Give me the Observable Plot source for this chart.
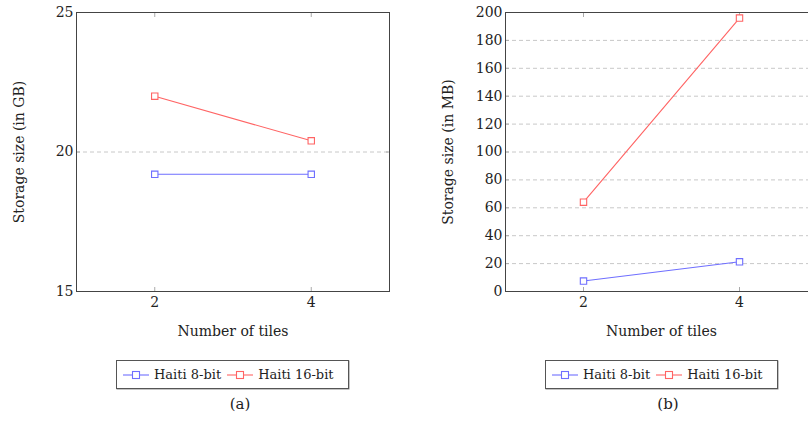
<!DOCTYPE html>
<html>
<head>
<meta charset="utf-8">
<script src="https://cdn.jsdelivr.net/npm/d3@7"></script>
<script src="https://cdn.jsdelivr.net/npm/@observablehq/plot@0.6"></script>
<style>
  html, body { margin: 0; padding: 0; background: #fff; }
  body { width: 808px; height: 423px; overflow: hidden; position: relative; font-family: "DejaVu Serif", serif; color: #222; }
  .panel { position: absolute; top: 0; }
  .panel svg { max-width: none !important; }
  .legend { position: absolute; top: 360px; height: 27px; width: 231px; border: 1px solid #555; display: flex; align-items: center; font-size: 13px; box-shadow: 0.5px 0.5px 0 #888; }
  .legend .item { display: flex; align-items: center; margin-left: 5px; }
  .legend svg { margin-right: 4px; }
  .caption { position: absolute; top: 395px; font-size: 15px; transform: translateX(-50%); }
</style>
</head>
<body>
<div id="pa" class="panel" style="left:0px"></div>
<div id="pb" class="panel" style="left:429px"></div>
<div id="la" class="legend" style="left:116px"></div>
<div id="lb" class="legend" style="left:545px"></div>
<div class="caption" style="left:240px">(a)</div>
<div class="caption" style="left:668px">(b)</div>
<script>
const tileCounts = [2, 4];
const xTicks = [2, 4];
const seriesNames = ["Haiti 8-bit", "Haiti 16-bit"];
const seriesColors = ["#6f6fff", "#ff6464"];
const gb8 = [19.2, 19.2];
const gb16 = [22.0, 20.4];
const mb8 = [7.5, 21.3];
const mb16 = [64, 196];
const gbTicks = [15, 20, 25];
const mbTicks = [0, 20, 40, 60, 80, 100, 120, 140, 160, 180, 200];
const gbLabel = "Storage size (in GB)";
const mbLabel = "Storage size (in MB)";
const xLabel = "Number of tiles";

function rows(a, b) {
  const out = [];
  [a, b].forEach((vals, s) => vals.forEach((v, i) => out.push({series: seriesNames[s], tiles: tileCounts[i], value: v})));
  return out;
}

function chart(data, yTicks, yLabel, width, marginRight) {
  return Plot.plot({
    width, height: 340,
    marginLeft: 76, marginTop: 12, marginBottom: 49, marginRight,
    style: {fontFamily: "DejaVu Serif, serif", fontSize: "13px", color: "#222", background: "white", overflow: "visible", maxWidth: "none"},
    x: {domain: [1, 5]},
    y: {domain: [yTicks[0], yTicks[yTicks.length - 1]]},
    color: {domain: seriesNames, range: seriesColors},
    marks: [
      Plot.gridY(yTicks, {stroke: "#c8c8c8", strokeOpacity: 1, strokeDasharray: "4,3"}),
      Plot.axisX(xTicks, {anchor: "bottom", tickSize: -4, stroke: "#aaa", tickPadding: 10, fontSize: 14, label: xLabel, labelAnchor: "center", labelOffset: 44, labelArrow: "none"}),
      Plot.axisX(xTicks, {anchor: "top", tickSize: -4, stroke: "#aaa", tickFormat: () => "", label: null}),
      Plot.axisY(yTicks, {anchor: "left", tickSize: -4, stroke: "#aaa", tickPadding: 7, fontSize: 14, label: yLabel, labelAnchor: "center", labelOffset: 62, labelArrow: "none"}),
      Plot.axisY(yTicks, {anchor: "right", tickSize: -4, stroke: "#aaa", tickFormat: () => "", label: null}),
      Plot.frame({stroke: "#444", strokeWidth: 1}),
      Plot.line(data, {x: "tiles", y: "value", z: "series", stroke: "series", strokeWidth: 1.1}),
      Plot.dot(data, {x: "tiles", y: "value", stroke: "series", symbol: "square", r: 3.6, fill: "white", strokeWidth: 1.1})
    ]
  });
}

document.getElementById("pa").append(chart(rows(gb8, gb16), gbTicks, gbLabel, 404, 15));
document.getElementById("pb").append(chart(rows(mb8, mb16), mbTicks, mbLabel, 403, 15));

function legend(id) {
  const el = document.getElementById(id);
  seriesNames.forEach((name, i) => {
    const item = document.createElement("div");
    item.className = "item";
    item.innerHTML = `<svg width="28" height="12"><line x1="1" y1="6" x2="27" y2="6" stroke="${seriesColors[i]}" stroke-width="1.1"/><rect x="10.5" y="2.5" width="7" height="7" fill="white" stroke="${seriesColors[i]}" stroke-width="1.1"/></svg><span>${name}</span>`;
    el.append(item);
  });
}
legend("la");
legend("lb");
</script>
</body>
</html>
